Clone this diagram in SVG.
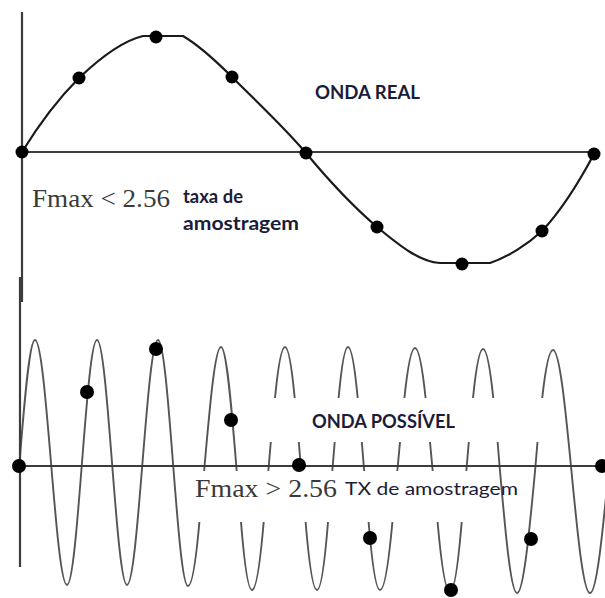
<svg xmlns="http://www.w3.org/2000/svg" width="605" height="598" viewBox="0 0 605 598">
  <style>
    .axis { stroke: #3c3c3c; stroke-width: 2.2; fill: none; }
    .real { stroke: #1a1a1a; stroke-width: 2.2; fill: none; stroke-linejoin: round; }
    .alias { stroke: #555555; stroke-width: 1.9; fill: none; }
    .dot { fill: #000000; }
    .serif { font-family: "Liberation Serif", "Times New Roman", serif; fill: #3a3a3a; }
    .lbl { font-family: Lato, "Open Sans", "Liberation Sans", sans-serif; fill: #1c1c3a; }
    .b { font-weight: bold; }
  </style>
  <rect width="605" height="598" fill="#ffffff"/>

  <g id="top-chart">
    <line class="axis" x1="22" y1="12" x2="22" y2="302"/>
    <line class="axis" x1="22" y1="152" x2="594" y2="152"/>
    <path id="real-wave" class="real" d="M22,152 C38,126 58,99 79,78 C100,58 122,41 143,36 L183,36 C200,46 216,61 232,77 C258,103 283,126 306,153 C330,182 355,208 377,227 C400,246 420,262 440,263 L490,263 C508,257 528,244 542,231 C560,212 578,184 594,154"/>
    <g id="real-samples" class="dot">
      <circle cx="22" cy="152" r="6.5"/>
      <circle cx="79" cy="78" r="6.5"/>
      <circle cx="156" cy="37" r="6.5"/>
      <circle cx="232" cy="77" r="6.5"/>
      <circle cx="306" cy="153" r="6.5"/>
      <circle cx="377" cy="227" r="6.5"/>
      <circle cx="462" cy="264" r="6.5"/>
      <circle cx="542" cy="231" r="6.5"/>
      <circle cx="594" cy="154" r="6.5"/>
    </g>
    <text class="lbl b" x="315" y="99" font-size="18" textLength="105" lengthAdjust="spacingAndGlyphs">ONDA REAL</text>
    <text class="serif" x="32" y="207" font-size="25" textLength="138" lengthAdjust="spacingAndGlyphs">Fmax &lt; 2.56</text>
    <text class="lbl b" x="183" y="203" font-size="18" textLength="60" lengthAdjust="spacingAndGlyphs">taxa de</text>
    <text class="lbl b" x="183" y="230" font-size="18" textLength="116" lengthAdjust="spacingAndGlyphs">amostragem</text>
  </g>

  <g id="bottom-chart">
    <path id="alias-wave" class="alias" d="
      M19.5,462.5 C24.4,401.25 29.4,340 35,340 C46.6,340 55.4,585 67,585 C77.9,585 86.1,340 97,340 C107.9,340 116.1,585 127,585 C138.3,585 146.7,340 158,340 C168.9,340 177.1,586 188,586 Q193.7,586 199.4,522
      M204.2,471 L204.5,466.5 C209.75,406.75 215,347 221,347 C226.6,347 231.6,407.75 236.5,468.5 L236.7,471
      M275,398 Q280,347 285,347 Q289.85,347 294.7,398
      M338.6,398 Q343.3,347 348,347 Q352.85,347 357.7,398
      M404.4,398 Q409.7,348 415,348 Q420.3,348 425.6,398
      M473,398 Q478,349 483,349 Q488.15,349 493.3,398
      M241,522 Q246.5,590 252,590 Q257.85,590 263.7,522
      M305.6,522 Q311.3,590 317,590 Q322.5,590 328,522
      M368.6,522 Q374.3,590 380,590 Q386.2,590 392.4,522
      M437.6,522 Q443.8,592 450,592 Q455.85,592 461.7,522
      M268.3,471 L270.8,442
      M298.8,442 L301.2,471
      M332.3,471 L334.7,442
      M361.8,442 L364.2,471
      M397.3,471 L400,442
      M430,442 L432.7,471
      M466.3,471 L468.8,442
      M497.6,442 L500,471 C505.4,532 510.8,593 517,593 C523.5,593 529.3,532.25 535,471.5 L537.5,442
      M542.2,398 Q547.6,350 553,350 C566.5,350 576.5,593 590,593 C603.5,593 613.5,350 627,350"/>
    <line class="axis" x1="20" y1="277" x2="20" y2="567"/>
    <line class="axis" x1="19" y1="466" x2="605" y2="466"/>
    <g id="alias-samples" class="dot">
      <circle cx="19" cy="466" r="7"/>
      <circle cx="87" cy="392" r="7"/>
      <circle cx="156" cy="349" r="7"/>
      <circle cx="231" cy="420" r="7"/>
      <circle cx="299" cy="465" r="7"/>
      <circle cx="370" cy="538" r="7"/>
      <circle cx="451" cy="590" r="7"/>
      <circle cx="531" cy="539" r="7"/>
      <circle cx="602" cy="466" r="7"/>
    </g>
    <text class="lbl b" x="312" y="428" font-size="18" textLength="143" lengthAdjust="spacingAndGlyphs">ONDA POSSÍVEL</text>
    <text class="serif" x="195" y="497" font-size="25" textLength="142" lengthAdjust="spacingAndGlyphs">Fmax &gt; 2.56</text>
    <text class="lbl" x="345" y="495" font-size="17" textLength="173" lengthAdjust="spacingAndGlyphs">TX de amostragem</text>
  </g>
</svg>
